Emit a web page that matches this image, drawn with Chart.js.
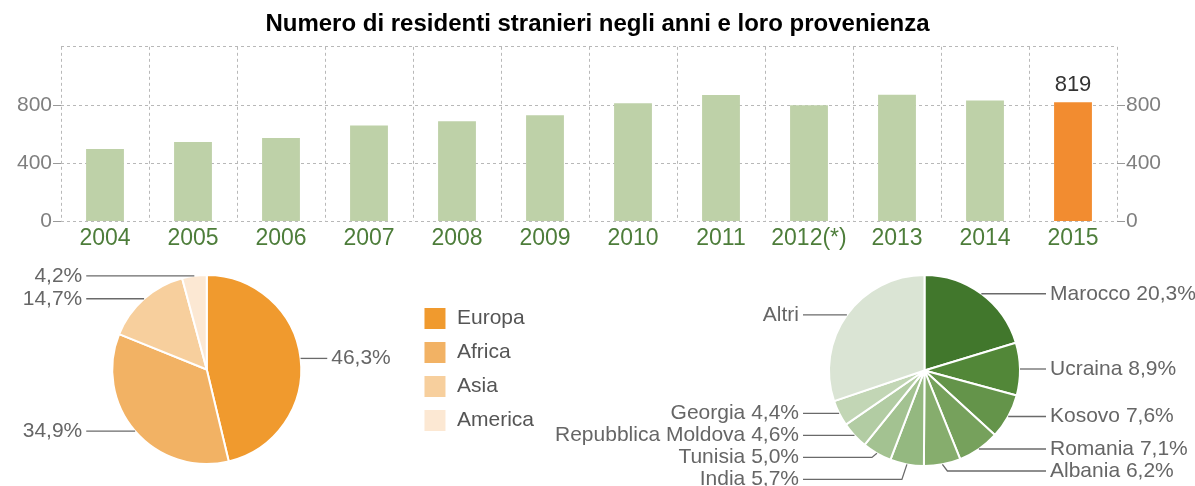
<!DOCTYPE html>
<html lang="it">
<head>
<meta charset="utf-8">
<title>Residenti stranieri</title>
<script src="https://cdn.jsdelivr.net/npm/chart.js@4.4.1/dist/chart.umd.min.js"></script>
<style>
    html, body { margin: 0; padding: 0; background: #ffffff; }
    body { width: 1195px; height: 486px; position: relative; overflow: hidden; }
    .box { position: absolute; }
    #box_barre { left: 0; top: 0; width: 1195px; height: 255px; }
    #box_continenti { left: 0; top: 250px; width: 560px; height: 236px; }
    #box_paesi { left: 530px; top: 250px; width: 665px; height: 236px; }
</style>
</head>
<body>
<div class="box" id="box_barre"><canvas id="grafico_barre"></canvas></div>
<div class="box" id="box_continenti"><canvas id="grafico_continenti"></canvas></div>
<div class="box" id="box_paesi"><canvas id="grafico_paesi"></canvas></div>

<script>
// dati
const anni = ["2004", "2005", "2006", "2007", "2008", "2009", "2010", "2011", "2012(*)", "2013", "2014", "2015"];
const residenti = [497, 545, 573, 659, 689, 729, 812, 868, 798, 870, 831, 819];
const tickResidenti = [0, 400, 800];

const continenti = ["Europa", "Africa", "Asia", "America"];
const quote_continenti = [46.3, 34.9, 14.7, 4.2];

const paesi = ["Marocco", "Ucraina", "Kosovo", "Romania", "Albania", "India", "Tunisia", "Repubblica Moldova", "Georgia", "Altri"];
const quote_paesi = [20.3, 8.9, 7.6, 7.1, 6.2, 5.7, 5.0, 4.6, 4.4, 30.2];

const FONT = "'Liberation Sans', Arial, Helvetica, sans-serif";
Chart.defaults.font.family = FONT;
Chart.defaults.animation = false;
Chart.defaults.events = [];

const verde_barra = "#bed1a8";
const arancio_barra = "#f28c30";
const griglia = "#b8b8b8";

const percento = (v) => v.toFixed(1).replace(".", ",") + "%";
const coloreTacca = (ctx) => (ctx.tick && tickResidenti.includes(ctx.tick.value) ? "#999999" : "rgba(0,0,0,0)");

// etichetta sopra l'ultima barra
const valoreUltimo = {
    id: "valoreUltimo",
    afterDatasetsDraw(chart) {
        const meta = chart.getDatasetMeta(0);
        const i = meta.data.length - 1;
        const barra = meta.data[i];
        const ctx = chart.ctx;
        ctx.save();
        ctx.font = "22px " + FONT;
        ctx.fillStyle = "#333333";
        ctx.textAlign = "center";
        ctx.textBaseline = "alphabetic";
        ctx.fillText(String(residenti[i]), barra.x, barra.y - 11);
        ctx.restore();
    },
};

new Chart("grafico_barre", {
    type: "bar",
    data: {
        labels: anni,
        datasets: [
            {
                data: residenti,
                backgroundColor: residenti.map((v, i) => (i === residenti.length - 1 ? arancio_barra : verde_barra)),
                barPercentage: 0.43,
                categoryPercentage: 1,
            },
        ],
    },
    options: {
        responsive: true,
        maintainAspectRatio: false,
        layout: { padding: 0 },
        plugins: {
            legend: { display: false },
            tooltip: { enabled: false },
            title: {
                display: true,
                text: "Numero di residenti stranieri negli anni e loro provenienza",
                color: "#000000",
                font: { size: 24, weight: "bold" },
                padding: { top: 10, bottom: 8 },
            },
        },
        scales: {
            x: {
                offset: true,
                grid: {
                    offset: true,
                    color: griglia,
                    drawTicks: false,
                },
                border: { display: false, dash: [3, 3] },
                ticks: {
                    color: "#4d7d3a",
                    font: { size: 23 },
                    padding: 3,
                    maxRotation: 0,
                    autoSkip: false,
                },
            },
            y: {
                position: "left",
                min: 0,
                max: 1200,
                afterFit: (scale) => { scale.width = 61; },
                grid: {
                    color: griglia,
                    tickLength: 8,
                    tickColor: coloreTacca,
                },
                border: { display: false, dash: [3, 3] },
                ticks: {
                    stepSize: 400,
                    color: "#7f7f7f",
                    font: { size: 21 },
                    padding: 1,
                    callback: (v) => (tickResidenti.includes(v) ? v : ""),
                },
            },
            y2: {
                position: "right",
                min: 0,
                max: 1200,
                afterFit: (scale) => { scale.width = 78; },
                grid: {
                    drawOnChartArea: false,
                    tickLength: 8,
                    tickColor: coloreTacca,
                },
                border: { display: false },
                ticks: {
                    stepSize: 400,
                    color: "#7f7f7f",
                    font: { size: 21 },
                    padding: 1,
                    callback: (v) => (tickResidenti.includes(v) ? v : ""),
                },
            },
        },
    },
    plugins: [valoreUltimo],
});

// etichette esterne con linee di richiamo
function etichetteEsterne(id, testo) {
    return {
        id: id,
        afterDatasetsDraw(chart) {
            const ctx = chart.ctx;
            const archi = chart.getDatasetMeta(0).data;
            const lati = { sx: [], dx: [] };
            archi.forEach((arco, i) => {
                const p = arco.getProps(["x", "y", "outerRadius", "startAngle", "endAngle"], true);
                const m = (p.startAngle + p.endAngle) / 2;
                const px = p.x + Math.cos(m) * p.outerRadius;
                const py = p.y + Math.sin(m) * p.outerRadius;
                const lato = Math.cos(m) >= 0 ? "dx" : "sx";
                lati[lato].push({ i, px, py, ly: py, cx: p.x, r: p.outerRadius });
            });
            ctx.save();
            ctx.font = "21px " + FONT;
            ctx.fillStyle = "#666666";
            ctx.strokeStyle = "#6a6a6a";
            ctx.lineWidth = 1.3;
            ctx.textBaseline = "middle";
            ["sx", "dx"].forEach((lato) => {
                const dir = lato === "dx" ? 1 : -1;
                const voci = lati[lato].sort((a, b) => a.py - b.py);
                voci.forEach((v, k) => {
                    if (k > 0) v.ly = Math.max(v.py, voci[k - 1].ly + 22);
                    const fine = v.cx + dir * (v.r + 26);
                    ctx.beginPath();
                    ctx.moveTo(v.px, v.py);
                    ctx.lineTo(v.px + dir * 5, v.ly);
                    ctx.lineTo(fine, v.ly);
                    ctx.stroke();
                    ctx.textAlign = dir > 0 ? "left" : "right";
                    ctx.fillText(testo(v.i), v.cx + dir * (v.r + 30), v.ly);
                });
            });
            ctx.restore();
        },
    };
}

new Chart("grafico_continenti", {
    type: "pie",
    data: {
        labels: continenti,
        datasets: [
            {
                data: quote_continenti,
                backgroundColor: ["#f09a2e", "#f2b264", "#f7cf9d", "#fce8d3"],
                borderColor: "#ffffff",
                borderWidth: 2,
            },
        ],
    },
    options: {
        responsive: true,
        maintainAspectRatio: false,
        layout: { padding: { left: 1, right: 16, top: 24, bottom: 21 } },
        plugins: {
            tooltip: { enabled: false },
            legend: {
                position: "right",
                align: "center",
                labels: {
                    boxWidth: 23,
                    boxHeight: 23,
                    padding: 11,
                    color: "#555555",
                    font: { size: 21 },
                },
            },
        },
    },
    plugins: [etichetteEsterne("etichetteContinenti", (i) => percento(quote_continenti[i]))],
});

new Chart("grafico_paesi", {
    type: "pie",
    data: {
        labels: paesi,
        datasets: [
            {
                data: quote_paesi,
                backgroundColor: [
                    "#41772c",
                    "#528738",
                    "#64944a",
                    "#76a15c",
                    "#86ad6d",
                    "#94b880",
                    "#a3c291",
                    "#b2cca3",
                    "#c2d6b5",
                    "#dae4d4",
                ],
                borderColor: "#ffffff",
                borderWidth: 2,
            },
        ],
    },
    options: {
        responsive: true,
        maintainAspectRatio: false,
        layout: { padding: { left: 298, right: 174, top: 24, bottom: 19 } },
        plugins: {
            tooltip: { enabled: false },
            legend: { display: false },
        },
    },
    plugins: [
        etichetteEsterne("etichettePaesi", (i) =>
            paesi[i] === "Altri" ? paesi[i] : paesi[i] + " " + percento(quote_paesi[i])
        ),
    ],
});
</script>
</body>
</html>
